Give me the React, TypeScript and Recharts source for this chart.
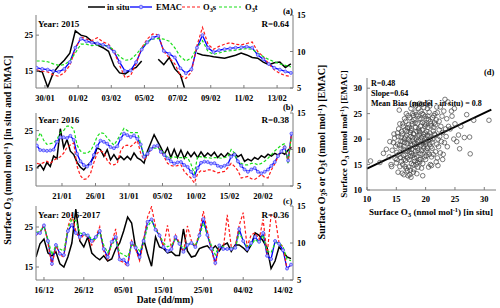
import { LineChart, Line, XAxis, YAxis, ScatterChart, Scatter, ReferenceLine } from "recharts";

const FONT = "'Liberation Serif', 'Times New Roman', serif";
const BOX = "#7d7d7d";
const tickStyle = { fill: "#000", fontSize: 8.5, fontWeight: 700, fontFamily: FONT };

// panel (a) 2015: day 0 = 30/01, 8-hourly
const A_START = -0.5;
const A_STEP = 1 / 3;
const A_TICKS = [0, 2, 4, 6, 8, 10, 12, 14];
const A_LABELS = ["30/01", "01/02", "03/02", "05/02", "07/02", "09/02", "11/02", "13/02"];
const A_INSITU = [15.0, 14.8, 10.5, 14.5, 16.5, 18.0, 20.0, 26.2, 25.0, 24.6, 23.3, 22.2, 21.5, 20.5, 16.5, 14.5, 14.2, 15.3, 16.0, 17.8, null, null, 18.3, 16.8, 18.8, 15.6, 14.0, 9.0, null, 20.0, 19.5, 19.3, 19.0, 18.8, 18.6, 19.0, 19.4, 20.0, 19.5, 18.8, 18.6, 17.5, 16.8, 17.3, 17.5, 16.0, 17.0];
const A_EMAC = [15.9, 15.6, 15.4, 15.0, 14.8, 15.6, 17.5, 21.5, 24.0, 23.3, 22.9, 22.7, 22.3, 21.8, 20.4, 17.5, 15.0, 15.2, 17.5, 21.0, 23.0, 24.3, 24.8, 20.6, 19.8, 18.8, 15.8, 14.4, 15.5, 21.5, 25.0, 21.5, 20.3, 20.8, 21.1, 21.3, 21.5, 21.6, 21.8, 21.5, 19.5, 18.3, 17.0, 15.9, 15.4, 14.9, 14.5];
const A_O3S = [7.5, 7.3, 7.2, 6.8, 6.6, 7.1, 8.1, 10.3, 12.0, 11.7, 11.5, 11.9, 11.3, 11.0, 10.0, 8.1, 6.4, 6.7, 8.3, 10.5, 11.7, 12.4, 12.3, 10.0, 9.1, 8.3, 6.7, 6.3, 7.2, 10.8, 13.3, 11.0, 10.3, 10.7, 11.0, 11.2, 11.0, 10.9, 11.1, 11.3, 10.0, 9.3, 8.3, 7.5, 7.0, 6.7, 6.6];
const A_O3T = [8.7, 8.7, 8.6, 8.3, 8.1, 8.2, 8.7, 9.8, 11.0, 11.0, 10.8, 10.9, 10.8, 10.7, 10.2, 9.3, 8.8, 8.9, 9.6, 10.5, 11.3, 11.7, 11.8, 11.7, 11.4, 10.5, 9.3, 8.7, 9.1, 10.5, 11.5, 10.0, 9.6, 9.8, 10.0, 10.1, 10.2, 10.3, 10.4, 10.3, 9.8, 9.3, 8.9, 8.6, 8.3, 8.1, 7.9];

// panel (b) 2016: day 0 = 21/01, 12-hourly
const B_START = -3.75;
const B_STEP = 0.5;
const B_TICKS = [0, 5, 10, 15, 20, 25, 30];
const B_LABELS = ["21/01", "26/01", "31/01", "05/02", "10/02", "15/02", "20/02"];
const B_INSITU = [15.0, 15.9, 14.5, 16.5, 15.4, 18.2, 17.5, 25.5, 20.4, 22.6, 19.5, 18.6, 16.5, 15.2, 14.5, 15.6, 16.5, 18.0, 20.4, 19.9, 18.1, 19.9, 17.2, 18.6, 17.2, 18.1, 17.2, 18.1, 17.2, 19.0, 17.7, 17.2, 16.3, 19.5, 21.7, 23.9, 22.2, 20.5, 18.6, 20.4, 17.8, 20.0, 17.8, 19.8, 17.6, 19.3, 18.0, 19.2, 17.8, 19.3, 18.0, 19.0, 18.2, 19.2, 17.8, 18.8, 17.9, 19.0, 18.2, 19.0, 18.0, 18.6, 16.8, 17.4, 16.9, 17.8, 17.3, 18.3, 17.8, 18.7, 18.2, 18.9, 18.5, 19.2, 18.7, 19.8, 20.5];
const B_EMAC = [21.0, 19.8, 19.7, 19.6, 19.7, 19.9, 22.0, 23.2, 23.2, 23.0, 23.6, 22.5, 18.8, 16.8, 15.8, 15.4, 16.2, 18.5, 20.8, 22.3, 22.0, 21.5, 20.6, 20.3, 20.8, 22.8, 24.2, 23.8, 23.3, 23.7, 22.8, 21.3, 18.0, 18.8, 20.0, 20.8, 21.0, 19.3, 18.5, 17.6, 16.8, 16.2, 16.5, 16.6, 15.8, 15.3, 14.0, 12.8, 15.0, 16.4, 16.7, 16.6, 16.2, 16.3, 15.6, 15.3, 15.6, 16.0, 18.0, 18.6, 16.8, 15.6, 14.6, 14.0, 14.6, 15.0, 14.0, 13.6, 14.0, 14.6, 15.6, 16.6, 18.2, 19.5, 20.5, 17.0, 24.2];
const B_O3S = [8.1, 8.0, 8.2, 8.4, 8.1, 8.5, 8.8, 9.0, 9.5, 10.3, 10.6, 10.9, 7.7, 6.4, 5.9, 6.0, 6.7, 8.2, 9.5, 9.8, 9.6, 8.5, 8.0, 7.9, 8.1, 9.8, 10.5, 10.6, 10.4, 10.8, 11.2, 9.5, 8.6, 9.0, 10.0, 10.4, 10.6, 9.8, 9.0, 8.1, 7.8, 7.7, 7.8, 7.9, 7.0, 6.5, 6.1, 5.4, 6.7, 7.1, 7.0, 7.2, 7.2, 7.0, 6.8, 6.9, 7.0, 7.5, 8.1, 7.7, 7.1, 6.1, 6.2, 6.3, 6.0, 5.9, 6.2, 6.6, 6.2, 6.1, 7.2, 8.0, 9.0, 9.8, 10.6, 8.2, 12.1];
const B_O3T = [11.2, 12.3, 11.3, 10.7, 10.8, 10.9, 11.4, 12.3, 12.6, 13.2, 13.2, 12.8, 10.6, 9.8, 9.5, 9.5, 9.8, 10.6, 11.8, 12.3, 12.2, 11.6, 11.1, 10.6, 11.3, 12.1, 12.9, 12.6, 12.3, 12.3, 12.3, 10.8, 9.1, 9.5, 10.2, 10.2, 10.2, 10.0, 9.4, 8.9, 8.9, 9.0, 8.9, 8.9, 8.9, 8.9, 8.0, 6.7, 9.1, 9.0, 8.9, 8.9, 8.8, 8.9, 8.9, 8.8, 8.9, 9.0, 10.0, 9.5, 8.2, 8.1, 7.9, 7.9, 8.1, 8.1, 7.9, 8.1, 8.4, 8.8, 9.3, 9.8, 10.2, 10.6, 10.8, 8.1, 11.8];

// panel (c) 2016-2017: day 0 = 16/12, daily
const C_START = -2;
const C_STEP = 1;
const C_TICKS = [0, 10, 20, 30, 40, 50, 60];
const C_LABELS = ["16/12", "26/12", "05/01", "15/01", "25/01", "04/02", "14/02"];
const C_INSITU = [17.5, 20.8, 22.0, 18.5, 17.8, 18.8, 15.8, 15.0, 17.5, 21.0, 29.5, 21.5, 20.0, 22.5, 18.5, 17.5, 16.8, 17.8, 16.5, 17.0, 19.5, 21.0, 24.0, 27.5, 26.0, 19.8, 17.0, 22.0, 18.3, 15.2, 22.5, 20.0, 19.6, 18.5, 18.8, 17.9, 17.9, 24.5, 19.0, 17.5, 17.8, 19.6, 20.0, 20.3, 19.2, 20.3, 19.0, 20.5, 21.0, 18.9, 20.5, 20.5, 19.8, 18.8, 20.5, 23.5, 22.9, 21.5, 19.8, 14.6, 16.5, 20.0, 18.9, 17.5, 17.1];
const C_EMAC = [23.3, 23.5, 25.4, 21.5, 15.8, 20.5, 18.3, 18.0, 24.0, 25.5, 23.5, 22.5, 23.3, 22.9, 21.5, 22.5, 24.0, 19.5, 17.5, 21.3, 22.5, 16.9, 16.8, 15.6, 21.0, 19.8, 17.5, 21.5, 26.3, 26.9, 24.3, 22.9, 20.0, 19.0, 19.5, 22.5, 20.8, 18.8, 20.5, 21.0, 20.0, 22.9, 27.0, 23.0, 19.6, 16.0, 20.4, 19.5, 19.5, 19.5, 19.8, 24.5, 21.5, 19.5, 21.0, 22.5, 21.3, 23.5, 17.8, 17.0, 21.5, 20.8, 19.2, 14.6, 15.6];
const C_O3S = [11.1, 11.4, 12.6, 10.0, 6.9, 9.7, 8.4, 8.1, 12.2, 13.8, 11.6, 10.5, 11.1, 10.8, 9.7, 10.8, 12.2, 8.9, 7.8, 10.0, 11.9, 7.6, 7.4, 6.8, 10.3, 9.2, 7.6, 10.3, 13.5, 14.9, 12.2, 11.1, 9.5, 12.4, 9.2, 11.1, 10.0, 8.7, 12.3, 10.3, 9.5, 11.4, 14.3, 11.6, 9.2, 7.0, 9.7, 9.2, 13.8, 9.5, 9.5, 12.4, 14.1, 9.5, 11.1, 11.4, 10.5, 13.2, 8.4, 13.8, 13.5, 10.0, 9.5, 6.5, 7.0];
const C_O3T = [11.4, 11.6, 12.2, 10.5, 8.4, 9.7, 9.2, 8.9, 11.9, 13.2, 13.0, 11.4, 11.1, 11.1, 10.5, 10.5, 11.6, 9.7, 8.7, 9.7, 10.5, 8.7, 8.4, 8.1, 9.7, 9.7, 8.9, 10.0, 12.2, 13.0, 11.9, 11.1, 10.0, 9.5, 9.7, 10.5, 10.0, 9.2, 9.7, 10.0, 9.7, 10.8, 12.7, 11.1, 9.7, 8.4, 9.7, 9.5, 9.2, 9.4, 9.2, 11.4, 10.3, 9.5, 9.7, 10.5, 10.0, 11.1, 8.9, 8.7, 10.0, 10.0, 9.5, 7.8, 7.6];

// panel (d): in situ vs EMAC
const SCATTER: [number, number][] = [
  [10.6, 15.7], [12.2, 15.4], [13.3, 18.0], [12.8, 17.2],
  [13.8, 16.5], [14.1, 15.0], [14.3, 17.8], [14.5, 19.3], [14.6, 21.0], [14.8, 16.2], [14.9, 18.6], [14.2, 14.6], [14.7, 20.2], [13.9, 19.5],
  [15.0, 15.3], [15.1, 17.4], [15.2, 19.0], [15.3, 20.5], [15.4, 22.0], [15.5, 25.7], [15.6, 14.6], [15.7, 16.4], [15.8, 18.2], [15.9, 21.5], [15.3, 13.5], [15.6, 23.0], [15.8, 19.6], [15.1, 16.0],
  [16.0, 13.3], [16.1, 15.0], [16.2, 16.8], [16.3, 18.5], [16.4, 20.0], [16.5, 21.8], [16.6, 23.5], [16.7, 14.2], [16.8, 17.6], [16.9, 19.2], [16.2, 22.5], [16.4, 24.0], [16.6, 15.8], [16.8, 20.8], [16.1, 19.5], [16.3, 13.0], [16.5, 17.0], [16.9, 22.2], [16.7, 25.0], [16.0, 21.0],
  [17.0, 12.8], [17.1, 14.5], [17.2, 16.0], [17.3, 17.5], [17.4, 19.0], [17.5, 20.5], [17.6, 22.0], [17.7, 23.5], [17.8, 25.0], [17.9, 13.5], [17.2, 18.3], [17.4, 21.3], [17.6, 15.2], [17.8, 16.8], [17.0, 20.0], [17.3, 24.2], [17.5, 12.5], [17.7, 18.8], [17.9, 21.0], [17.1, 22.8], [17.5, 26.0], [17.3, 13.0], [17.8, 19.8], [17.6, 17.2],
  [18.0, 14.0], [18.1, 15.6], [18.2, 17.0], [18.3, 18.5], [18.4, 20.0], [18.5, 21.5], [18.6, 23.0], [18.7, 24.5], [18.8, 26.0], [18.9, 16.0], [18.1, 19.2], [18.3, 22.3], [18.5, 13.2], [18.7, 17.8], [18.9, 20.8], [18.2, 25.3], [18.4, 15.0], [18.6, 19.5], [18.8, 22.0], [18.0, 23.8], [18.5, 16.5], [18.9, 24.0], [18.3, 26.5], [18.7, 14.5],
  [19.0, 15.5], [19.1, 17.2], [19.2, 18.8], [19.3, 20.3], [19.4, 21.8], [19.5, 23.3], [19.6, 24.8], [19.7, 26.2], [19.8, 16.5], [19.9, 19.5], [19.1, 22.5], [19.3, 14.3], [19.5, 12.8], [19.7, 18.2], [19.9, 21.2], [19.2, 25.5], [19.4, 17.0], [19.6, 20.5], [19.8, 23.0], [19.0, 27.0], [19.5, 15.2], [19.9, 24.5],
  [20.0, 16.0], [20.1, 17.8], [20.2, 19.3], [20.3, 20.8], [20.4, 22.3], [20.5, 23.8], [20.6, 25.3], [20.7, 26.5], [20.8, 15.0], [20.9, 18.5], [20.2, 21.5], [20.4, 24.5], [20.6, 17.0], [20.8, 20.0], [20.0, 22.8], [20.5, 14.5], [20.9, 23.0], [20.3, 26.0], [20.7, 19.0],
  [21.0, 16.5], [21.1, 18.2], [21.2, 20.0], [21.3, 21.6], [21.5, 23.2], [21.6, 25.0], [21.8, 15.5], [21.9, 19.0], [21.4, 22.3], [21.7, 17.5], [21.2, 24.2], [21.9, 26.3], [21.0, 14.8], [21.6, 20.8],
  [22.0, 16.3], [22.2, 18.5], [22.4, 20.5], [22.6, 22.5], [22.8, 24.5], [22.1, 14.8], [22.5, 26.3], [22.9, 16.0], [22.3, 23.5], [22.7, 19.5], [22.9, 21.3],
  [23.0, 17.0], [23.2, 19.3], [23.4, 22.0], [23.6, 24.0], [23.8, 27.3], [23.3, 27.8], [23.5, 20.5], [23.9, 22.5], [23.1, 25.5], [23.7, 18.5],
  [24.2, 22.0], [24.5, 24.5], [24.8, 20.0], [25.0, 23.0], [25.3, 19.5], [25.6, 20.8], [24.4, 25.5], [25.8, 18.1], [24.9, 26.0],
  [26.6, 20.3], [27.5, 20.4], [27.6, 17.1], [28.2, 23.7], [30.8, 23.7], [26.0, 22.5], [27.0, 24.8],
  // dense core
  [16.9, 16.3], [17.1, 17.9], [17.3, 19.6], [17.5, 21.7], [17.7, 23.0], [17.9, 24.6], [17.4, 16.6], [17.6, 18.0], [17.8, 20.3], [17.2, 22.3],
  [18.1, 16.3], [18.3, 17.6], [18.5, 19.0], [18.7, 20.4], [18.9, 21.6], [18.2, 23.2], [18.4, 24.8], [18.6, 18.2], [18.8, 19.8], [18.0, 21.0],
  [19.1, 16.0], [19.3, 17.7], [19.5, 19.2], [19.7, 20.9], [19.9, 22.5], [19.2, 23.9], [19.4, 25.0], [19.6, 18.6], [19.8, 20.0], [19.0, 21.4],
  [20.1, 16.7], [20.3, 18.2], [20.5, 19.8], [20.7, 21.2], [20.9, 22.6], [20.2, 24.0], [20.4, 17.4], [20.6, 20.6], [20.8, 23.4], [20.0, 19.0],
  [16.2, 18.0], [16.4, 19.3], [16.6, 20.4], [16.8, 21.5], [16.3, 16.0], [16.5, 14.6], [16.9, 13.8], [17.4, 13.9], [17.9, 15.0], [18.6, 15.4],
  [21.1, 19.4], [21.3, 17.0], [21.5, 21.0], [21.7, 22.8], [21.4, 24.6], [22.1, 20.0], [22.3, 21.8], [22.5, 17.3], [21.8, 23.8], [22.0, 25.2],
  [15.4, 17.0], [15.6, 18.8], [15.8, 20.4], [15.2, 21.2], [15.9, 15.6], [16.1, 23.0], [17.0, 24.6], [18.1, 26.8], [19.4, 26.8], [20.6, 27.2],
];
const FIT_LINE = [{ x: 10, y: 14.2 }, { x: 31.2, y: 25.8 }];

type Row = { day: number; insitu: number | null; emac: number; o3s: number; o3t: number };

function buildRows(start: number, step: number, insitu: (number | null)[], emac: number[], o3s: number[], o3t: number[]): Row[] {
  return insitu.map((v, i) => ({ day: start + i * step, insitu: v, emac: emac[i], o3s: o3s[i], o3t: o3t[i] }));
}

const panels = [
  { top: 0, plotH: 73, rows: buildRows(A_START, A_STEP, A_INSITU, A_EMAC, A_O3S, A_O3T), xDomain: [-0.54, 14.96], ticks: A_TICKS, labels: A_LABELS, leftDomain: [10.3, 30.6] },
  { top: 98, plotH: 73, rows: buildRows(B_START, B_STEP, B_INSITU, B_EMAC, B_O3S, B_O3T), xDomain: [-3.88, 34.48], ticks: B_TICKS, labels: B_LABELS, leftDomain: [10.2, 29.7] },
  { top: 191, plotH: 74, rows: buildRows(C_START, C_STEP, C_INSITU, C_EMAC, C_O3S, C_O3T), xDomain: [-2, 62.5], ticks: C_TICKS, labels: C_LABELS, leftDomain: [11.75, 30.25] },
];

function SeriesPanel({ top, plotH, rows, xDomain, ticks, labels, leftDomain }: any) {
  const fmt = (v: number) => labels[ticks.indexOf(v)] ?? "";
  const axisH = 22;
  return (
    <div style={{ position: "absolute", left: 0, top }}>
      <LineChart width={330} height={15 + plotH + axisH} data={rows} margin={{ top: 15, right: 0, bottom: 0, left: 0 }}>
        <XAxis dataKey="day" type="number" domain={xDomain} allowDataOverflow ticks={ticks} interval={0} tickFormatter={fmt}
          height={axisH} tick={tickStyle} tickSize={-3} tickMargin={10} tickLine={{ stroke: BOX }} axisLine={{ stroke: BOX }} />
        <XAxis xAxisId="top" orientation="top" dataKey="day" type="number" domain={xDomain} allowDataOverflow
          height={0} tick={false} axisLine={{ stroke: BOX }} />
        <YAxis yAxisId="left" type="number" domain={leftDomain} allowDataOverflow ticks={[15, 25]} interval={0} width={36}
          tick={tickStyle} tickSize={-3} tickMargin={6} tickLine={{ stroke: BOX }} axisLine={{ stroke: BOX }} />
        <YAxis yAxisId="right" orientation="right" type="number" domain={[5, 15]} allowDataOverflow ticks={[5, 10, 15]} interval={0} width={37}
          tick={tickStyle} tickSize={-3} tickMargin={7} tickLine={{ stroke: BOX }} axisLine={{ stroke: BOX }} />
        <Line yAxisId="left" dataKey="insitu" stroke="#000" strokeWidth={1.5} dot={false} activeDot={false} isAnimationActive={false} />
        <Line yAxisId="left" dataKey="emac" stroke="#0000ff" strokeWidth={1.3}
          dot={{ r: 1.5, stroke: "#4d4dff", strokeWidth: 0.8, fill: "#b4b4ff" }} activeDot={false} isAnimationActive={false} />
        <Line yAxisId="right" dataKey="o3s" stroke="#ff1a1a" strokeWidth={1.2} strokeDasharray="3 2" dot={false} activeDot={false} isAnimationActive={false} />
        <Line yAxisId="right" dataKey="o3t" stroke="#1adf1a" strokeWidth={1.2} strokeDasharray="3 2" dot={false} activeDot={false} isAnimationActive={false} />
      </LineChart>
    </div>
  );
}

const OpenCircle = (p: any) => <circle cx={p.cx} cy={p.cy} r={2.3} fill="none" stroke="#444" strokeWidth={0.7} />;

function ScatterPanel() {
  const pts = SCATTER.map(([x, y]) => ({ x, y }));
  return (
    <div style={{ position: "absolute", left: 330, top: 60 }}>
      <ScatterChart width={170} height={150} margin={{ top: 18, right: 4, bottom: 0, left: 0 }}>
        <XAxis dataKey="x" type="number" domain={[10, 32]} allowDataOverflow ticks={[10, 15, 20, 25, 30]} interval={0}
          height={20} tick={tickStyle} tickSize={-3} tickMargin={9} tickLine={{ stroke: BOX }} axisLine={{ stroke: BOX }} />
        <XAxis xAxisId="top" orientation="top" dataKey="x" type="number" domain={[10, 32]} allowDataOverflow
          height={0} tick={false} axisLine={{ stroke: BOX }} />
        <YAxis dataKey="y" type="number" domain={[10, 32]} allowDataOverflow ticks={[10, 15, 20, 25, 30]} interval={0} width={37}
          tick={tickStyle} tickSize={-3} tickMargin={8} tickLine={{ stroke: BOX }} axisLine={{ stroke: BOX }} />
        <YAxis yAxisId="r" orientation="right" dataKey="y" type="number" domain={[10, 32]} allowDataOverflow
          width={0} tick={false} axisLine={{ stroke: BOX }} />
        <Scatter data={pts} shape={OpenCircle} isAnimationActive={false} />
        <ReferenceLine segment={FIT_LINE} stroke="#000" strokeWidth={2} />
      </ScatterChart>
    </div>
  );
}

function Sub({ t }: { t: string }) {
  return <tspan dy={2} fontSize="0.75em">{t}</tspan>;
}

export default function App() {
  const txt = { fontFamily: FONT, fontWeight: 700, fill: "#000" } as const;
  return (
    <div style={{ position: "fixed", left: 0, top: 0, width: 500, height: 308, background: "#fff", overflow: "hidden" }}>
      {panels.map((p, i) => (
        <SeriesPanel key={i} {...p} />
      ))}
      <ScatterPanel />
      <svg width={500} height={308} style={{ position: "absolute", left: 0, top: 0, pointerEvents: "none" }}>
        {/* legend */}
        <line x1={88} x2={105} y1={7} y2={7} stroke="#000" strokeWidth={1.5} />
        <text x={107} y={10} fontSize={8.5} {...txt}>in situ</text>
        <line x1={130} x2={152} y1={7} y2={7} stroke="#0000ff" strokeWidth={1.3} />
        <circle cx={141} cy={7} r={1.8} stroke="#4d4dff" strokeWidth={0.8} fill="#b4b4ff" />
        <text x={156} y={10} fontSize={8.5} {...txt}>EMAC</text>
        <line x1={182} x2={200} y1={7} y2={7} stroke="#ff1a1a" strokeWidth={1.2} strokeDasharray="3 2" />
        <text x={203} y={10} fontSize={8.5} {...txt}>O<Sub t="3" /><tspan dy={-2}>s</tspan></text>
        <line x1={219} x2={241} y1={7} y2={7} stroke="#1adf1a" strokeWidth={1.2} strokeDasharray="3 2" />
        <text x={245} y={10} fontSize={8.5} {...txt}>O<Sub t="3" /><tspan dy={-2}>t</tspan></text>

        {/* panel annotations */}
        <text x={283} y={14} fontSize={8.5} {...txt}>(a)</text>
        <text x={38} y={27} fontSize={9} {...txt}>Year: 2015</text>
        <text x={289} y={27} fontSize={9} textAnchor="end" {...txt}>R=0.64</text>
        <text x={283} y={110} fontSize={8.5} {...txt}>(b)</text>
        <text x={38} y={123} fontSize={9} {...txt}>Year: 2016</text>
        <text x={289} y={123} fontSize={9} textAnchor="end" {...txt}>R=0.38</text>
        <text x={283} y={204} fontSize={8.5} {...txt}>(c)</text>
        <text x={38} y={218} fontSize={9} {...txt}>Year: 2016-2017</text>
        <text x={289} y={218} fontSize={9} textAnchor="end" {...txt}>R=0.36</text>

        {/* axis titles */}
        <text transform="translate(11,150) rotate(-90)" textAnchor="middle" fontSize={10} {...txt}>
          Surface O<Sub t="3" /><tspan dy={-2}> (nmol mol</tspan><tspan dy={-3} fontSize="0.7em">-1</tspan><tspan dy={3}>) [in situ and EMAC]</tspan>
        </text>
        <text transform="translate(325,152) rotate(-90)" textAnchor="middle" fontSize={10} {...txt}>
          Surface O<Sub t="3" /><tspan dy={-2}>s or O</tspan><Sub t="3" /><tspan dy={-2}>t (nmol mol</tspan><tspan dy={-3} fontSize="0.7em">-1</tspan><tspan dy={3}>) [EMAC]</tspan>
        </text>
        <text x={165} y={303} textAnchor="middle" fontSize={9.5} {...txt}>Date (dd/mm)</text>

        {/* scatter annotations */}
        <text x={484} y={75} fontSize={8.5} {...txt}>(d)</text>
        <text x={371} y={86} fontSize={8} {...txt}>R=0.48</text>
        <text x={371} y={96} fontSize={8} {...txt}>Slope=0.64</text>
        <text x={371} y={106} fontSize={8} {...txt}>Mean Bias (model - in situ) = 0.8</text>
        <text transform="translate(347,134) rotate(-90)" textAnchor="middle" fontSize={9} {...txt}>
          Surface O<Sub t="3" /><tspan dy={-2}> (nmol mol</tspan><tspan dy={-3} fontSize="0.7em">-1</tspan><tspan dy={3}>) [EMAC]</tspan>
        </text>
        <text x={431} y={215} textAnchor="middle" fontSize={9} {...txt}>
          Surface O<Sub t="3" /><tspan dy={-2}> (nmol mol</tspan><tspan dy={-3} fontSize="0.7em">-1</tspan><tspan dy={3}>) [in situ]</tspan>
        </text>
      </svg>
    </div>
  );
}
